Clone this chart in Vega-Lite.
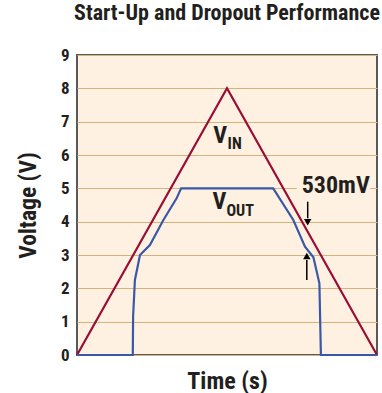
{
  "$schema": "https://vega.github.io/schema/vega-lite/v6.json",
  "width": 300,
  "height": 300,
  "autosize": "none",
  "padding": {"left": 77, "top": 55, "right": 5, "bottom": 38},
  "background": "white",
  "title": {
    "text": "Start-Up and Dropout Performance",
    "font": "Roboto Condensed, Roboto, sans-serif",
    "fontSize": 22,
    "fontWeight": "bold",
    "color": "#231f20",
    "anchor": "middle",
    "offset": 21
  },
  "config": {
    "view": {"fill": "#fef1e1", "stroke": "#58595b", "strokeWidth": 2},
    "axis": {
      "labelFont": "Roboto Condensed, Roboto, sans-serif",
      "titleFont": "Roboto Condensed, Roboto, sans-serif",
      "labelColor": "#231f20",
      "titleColor": "#231f20",
      "labelFontWeight": "bold",
      "titleFontWeight": "bold"
    },
    "text": {"font": "Roboto Condensed, Roboto, sans-serif"}
  },
  "datasets": {
    "lines": [
      {"series": "VIN", "t": 0, "v": 0},
      {"series": "VIN", "t": 50, "v": 8},
      {"series": "VIN", "t": 100, "v": 0},
      {"series": "VOUT", "t": 0, "v": 0},
      {"series": "VOUT", "t": 18.6, "v": 0},
      {"series": "VOUT", "t": 18.7, "v": 1.15},
      {"series": "VOUT", "t": 19.3, "v": 2.25},
      {"series": "VOUT", "t": 21, "v": 3.0},
      {"series": "VOUT", "t": 24.3, "v": 3.3},
      {"series": "VOUT", "t": 28.8, "v": 4.05},
      {"series": "VOUT", "t": 33.2, "v": 4.7},
      {"series": "VOUT", "t": 34.7, "v": 5.0},
      {"series": "VOUT", "t": 65.4, "v": 5.0},
      {"series": "VOUT", "t": 72.1, "v": 4.05},
      {"series": "VOUT", "t": 76, "v": 3.25},
      {"series": "VOUT", "t": 78.8, "v": 2.93},
      {"series": "VOUT", "t": 80.8, "v": 2.15},
      {"series": "VOUT", "t": 81.3, "v": 0},
      {"series": "VOUT", "t": 100, "v": 0}
    ],
    "labels": [
      {"t": 45.4, "v": 6.58, "text": "V", "kind": "main"},
      {"t": 50.2, "v": 6.34, "text": "IN", "kind": "sub"},
      {"t": 45.2, "v": 4.59, "text": "V", "kind": "main"},
      {"t": 49.8, "v": 4.33, "text": "OUT", "kind": "sub"},
      {"t": 74.9, "v": 5.06, "text": "530mV", "kind": "main"}
    ],
    "box": [{"t1": 73.3, "t2": 97.7, "v1": 4.85, "v2": 5.15}],
    "arrows": [
      {"t": 76.9, "v1": 4.6, "v2": 4.1, "tip": 3.98, "dir": "down"},
      {"t": 76.6, "v1": 2.25, "v2": 2.85, "tip": 2.97, "dir": "up"}
    ]
  },
  "layer": [
    {
      "data": {"name": "lines"},
      "mark": {"type": "line", "strokeWidth": 2.2, "interpolate": "linear"},
      "encoding": {
        "x": {
          "field": "t", "type": "quantitative",
          "scale": {"domain": [0, 100], "nice": false},
          "axis": {"title": "Time (s)", "titleFontSize": 24, "labels": false, "ticks": false, "domain": false, "grid": false, "titlePadding": 14}
        },
        "y": {
          "field": "v", "type": "quantitative",
          "scale": {"domain": [0, 9], "nice": false},
          "axis": {"title": "Voltage (V)", "titleFontSize": 23.5, "values": [0,1,2,3,4,5,6,7,8,9], "labelOverlap": false, "labelFontSize": 17, "labelPadding": 8, "ticks": false, "domain": false, "grid": true, "gridColor": "#d6b27c", "gridWidth": 1.2, "gridOpacity": 1, "titlePadding": 20}
        },
        "color": {
          "field": "series", "type": "nominal",
          "scale": {"domain": ["VIN", "VOUT"], "range": ["#9b0d35", "#3a58a8"]},
          "legend": null
        }
      }
    },
    {
      "data": {"name": "box"},
      "mark": {"type": "rect", "fill": "#fef1e1"},
      "encoding": {
        "x": {"field": "t1", "type": "quantitative", "scale": {"domain": [0, 100], "nice": false}, "axis": {"title": "Time (s)", "titleFontSize": 24, "labels": false, "ticks": false, "domain": false, "grid": false, "titlePadding": 14}},
        "x2": {"field": "t2"},
        "y": {"field": "v1", "type": "quantitative", "scale": {"domain": [0, 9], "nice": false}, "axis": {"title": "Voltage (V)", "titleFontSize": 23.5, "values": [0,1,2,3,4,5,6,7,8,9], "labelOverlap": false, "labelFontSize": 17, "labelPadding": 8, "ticks": false, "domain": false, "grid": true, "gridColor": "#d6b27c", "gridWidth": 1.2, "gridOpacity": 1, "titlePadding": 20}},
        "y2": {"field": "v2"}
      }
    },
    {
      "data": {"name": "arrows"},
      "mark": {"type": "rule", "color": "#000000", "strokeWidth": 1.5},
      "encoding": {
        "x": {"field": "t", "type": "quantitative", "axis": {"title": "Time (s)", "titleFontSize": 24, "labels": false, "ticks": false, "domain": false, "grid": false, "titlePadding": 14}},
        "y": {"field": "v1", "type": "quantitative", "axis": {"title": "Voltage (V)", "titleFontSize": 23.5, "values": [0,1,2,3,4,5,6,7,8,9], "labelOverlap": false, "labelFontSize": 17, "labelPadding": 8, "ticks": false, "domain": false, "grid": true, "gridColor": "#d6b27c", "gridWidth": 1.2, "gridOpacity": 1, "titlePadding": 20}},
        "y2": {"field": "v2"}
      }
    },
    {
      "data": {"name": "arrows"},
      "mark": {"type": "point", "filled": true, "color": "#000000", "opacity": 1, "size": 55},
      "encoding": {
        "x": {"field": "t", "type": "quantitative", "axis": {"title": "Time (s)", "titleFontSize": 24, "labels": false, "ticks": false, "domain": false, "grid": false, "titlePadding": 14}},
        "y": {"field": "tip", "type": "quantitative", "axis": {"title": "Voltage (V)", "titleFontSize": 23.5, "values": [0,1,2,3,4,5,6,7,8,9], "labelOverlap": false, "labelFontSize": 17, "labelPadding": 8, "ticks": false, "domain": false, "grid": true, "gridColor": "#d6b27c", "gridWidth": 1.2, "gridOpacity": 1, "titlePadding": 20}},
        "shape": {"field": "dir", "type": "nominal", "scale": {"domain": ["down", "up"], "range": ["triangle-down", "triangle-up"]}, "legend": null}
      }
    },
    {
      "data": {"name": "labels"},
      "mark": {"type": "text", "align": "left", "baseline": "middle", "fontWeight": "bold", "color": "#231f20"},
      "encoding": {
        "x": {"field": "t", "type": "quantitative", "axis": {"title": "Time (s)", "titleFontSize": 24, "labels": false, "ticks": false, "domain": false, "grid": false, "titlePadding": 14}},
        "y": {"field": "v", "type": "quantitative", "axis": {"title": "Voltage (V)", "titleFontSize": 23.5, "values": [0,1,2,3,4,5,6,7,8,9], "labelOverlap": false, "labelFontSize": 17, "labelPadding": 8, "ticks": false, "domain": false, "grid": true, "gridColor": "#d6b27c", "gridWidth": 1.2, "gridOpacity": 1, "titlePadding": 20}},
        "text": {"field": "text"},
        "size": {"field": "kind", "type": "nominal", "scale": {"domain": ["main", "sub"], "range": [24, 16]}, "legend": null}
      }
    }
  ]
}
